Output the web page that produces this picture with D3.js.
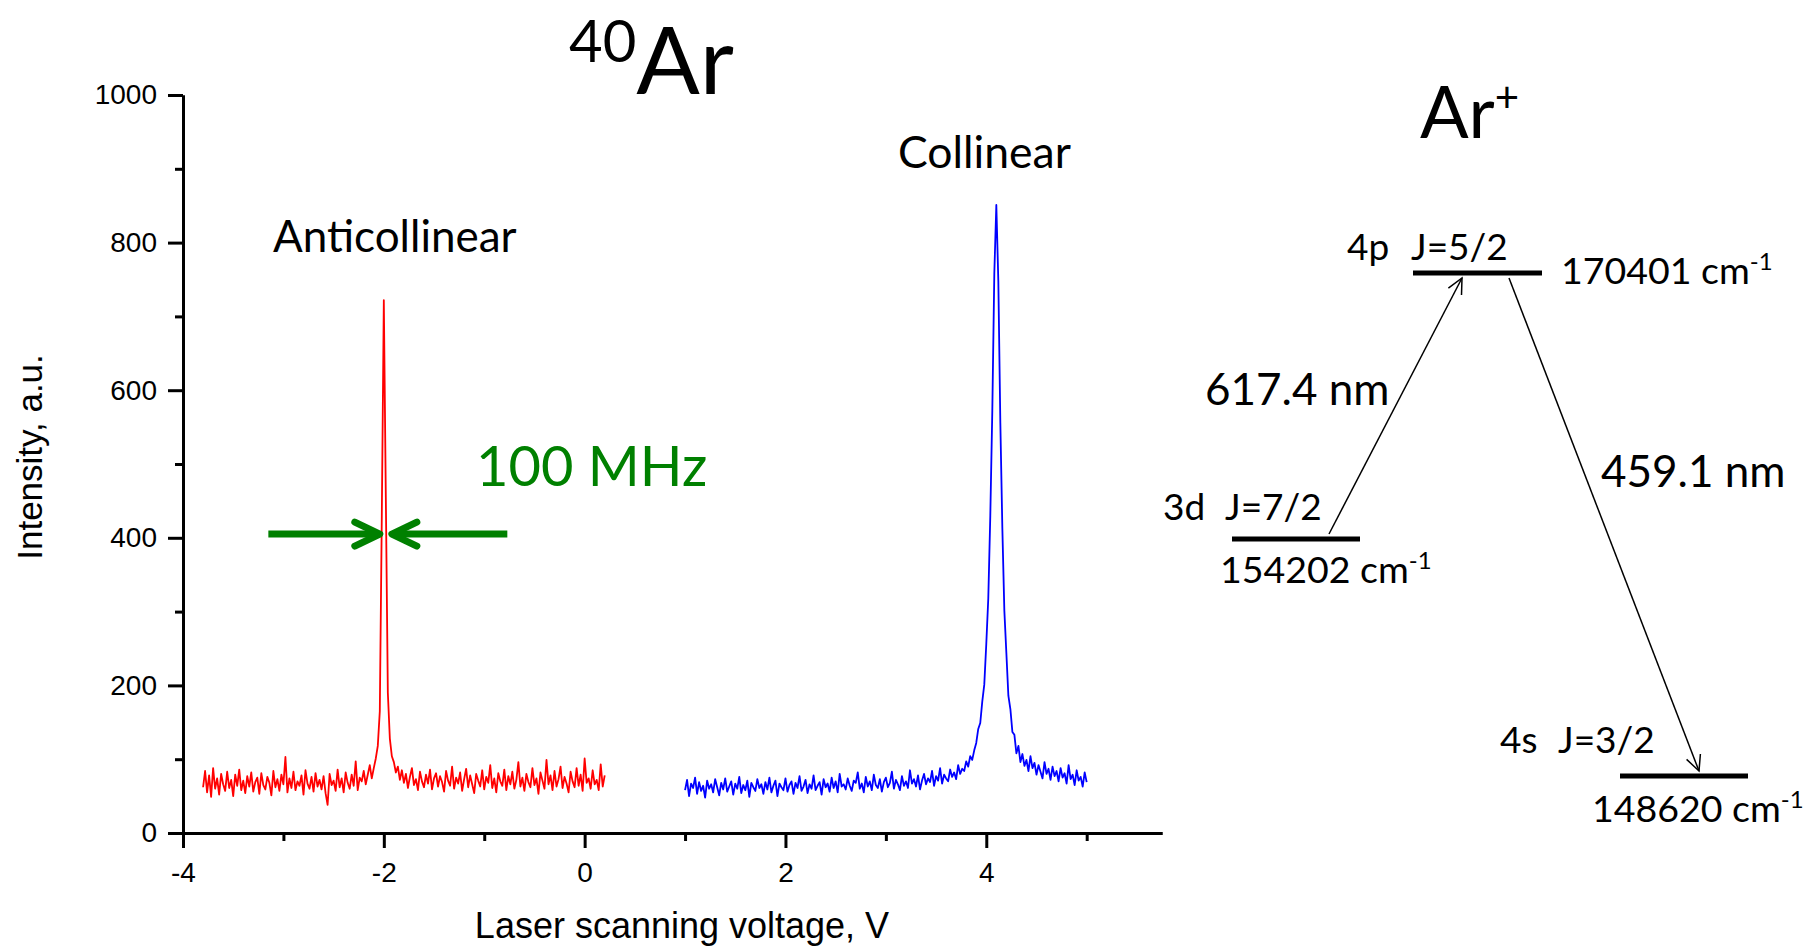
<!DOCTYPE html>
<html>
<head>
<meta charset="utf-8">
<script src="https://cdn.jsdelivr.net/npm/d3@7"></script>
<style>
  body { margin: 0; background: #fff; }
  svg { display: block; }
</style>
</head>
<body>
<svg id="chart" width="1809" height="947"></svg>
<script>
// scan settings (V)
const redStart = -3.8;
const blueStart = 1.0;
const scanStep = 0.02;

// anticollinear trace, intensity a.u.
const redValues = [
  62, 84, 55, 78, 49, 88, 60, 74, 52, 80, 66, 57, 83, 61, 72, 50, 79, 64, 86, 58,
  71, 54, 77, 63, 82, 56, 69, 75, 53, 81, 65, 59, 76, 68, 51, 84, 62, 73, 57, 79,
  66, 103, 55, 74, 61, 83, 58, 70, 64, 78, 52, 85, 67, 60, 76, 56, 81, 63, 72, 59,
  77, 54, 38, 80, 65, 71, 57, 86, 62, 74, 55, 82, 68, 60, 79, 64, 97, 58, 75, 70,
  84, 66, 79, 92, 74, 88, 101, 118, 165, 430,
  722,
  455, 190, 128, 104, 96, 82, 90, 72, 85,
  68, 80, 61, 76, 88, 65, 73, 58, 83, 70, 62, 79, 67, 86, 59, 74, 81, 63, 77, 69,
  56, 84, 71, 64, 90, 60, 75, 67, 82, 57, 73, 87, 62, 78, 66, 54, 80, 71, 63, 85,
  59, 76, 68, 92, 61, 74, 55, 81, 70, 64, 86, 58, 77, 66, 83, 60, 72, 96, 63, 75,
  57, 80, 69, 62, 88, 65, 74, 53, 82, 71, 60, 99, 66, 78, 58, 84, 63, 73, 90, 61,
  76, 67, 55, 83, 70, 62, 88, 64, 79, 57, 101, 68, 74, 60, 85, 66, 72, 58, 93, 63, 78
];

// collinear trace, intensity a.u.
const blueValues = [
  58, 72, 50, 67, 61, 75, 53, 69, 57, 64, 48, 71, 60, 66, 55, 73, 62, 51, 68, 59,
  74, 56, 63, 70, 52, 67, 60, 76, 54, 65, 58, 71, 49, 68, 62, 57, 73, 61, 66, 53,
  69, 59, 75, 55, 64, 71, 50, 67, 62, 58, 74, 56, 65, 70, 53, 68, 61, 77, 57, 63,
  72, 54, 66, 60, 78, 58, 64, 69, 52, 73, 62, 67, 56, 75, 61, 70, 55, 80, 63, 66,
  59, 74, 64, 57, 71, 68, 82, 60, 67, 55, 76, 63, 70, 58, 79, 65, 61, 73, 56, 69,
  75, 62, 68, 83, 60, 72, 66, 58, 77, 64, 70, 61, 85, 67, 73, 63, 78, 59, 71, 80,
  66, 74, 69, 84, 64, 77, 71, 88, 67, 79, 74, 70, 86, 76, 82, 73, 92, 80, 87, 84,
  97, 90, 104, 99, 112,
  122, 141, 149, 178, 201, 256, 318, 430, 572, 758, 851, 748, 556, 413, 301, 244, 186, 168, 137, 133, 108,
  118, 96, 107, 91, 99, 84, 104, 88, 95, 79, 92, 83, 74, 96, 80, 87, 72, 90, 77, 84,
  70, 88, 75, 81, 67, 92, 73, 79, 65, 85, 71, 76, 63, 82, 69
];

const xMajorTicks = [-4, -2, 0, 2, 4];
const xMinorTicks = [-3, -1, 1, 3, 5];
const yMajorTicks = [0, 200, 400, 600, 800, 1000];
const yMinorTicks = [100, 300, 500, 700, 900];

// linewidth arrows (V) at intensity level
const widthArrowTails = [-3.15, -0.77];
const widthArrowTips = [-2.04, -1.92];
const widthArrowLevel = 405;

// Ar+ levels
const levelConfigs = ["4p", "3d", "4s"];
const levelJ = ["J=5/2", "J=7/2", "J=3/2"];
const levelEnergies = [170401, 154202, 148620];
const transitionFrom = [1, 0];
const transitionTo = [0, 2];
const transitionLabels = ["617.4 nm", "459.1 nm"];

const svg = d3.select("#chart");
const axisFont = "'Liberation Sans', Arial, sans-serif";
const noteFont = "Lato, 'Open Sans', sans-serif";

const x = d3.scaleLinear().domain([-4, 5.75]).range([183, 1162]);
const y = d3.scaleLinear().domain([0, 1000]).range([833, 95]);

const plainNumber = d => String(d);

const styleAxis = g => {
  g.selectAll("path, line").attr("stroke", "#000").attr("stroke-width", 3);
  g.selectAll("text")
    .attr("font-family", axisFont)
    .attr("font-size", 28)
    .attr("fill", "#000");
};

// minor ticks first, majors on top
svg.append("g")
  .attr("transform", `translate(0,${y(0)})`)
  .call(d3.axisBottom(x).tickValues(xMinorTicks).tickSize(8).tickSizeOuter(0).tickFormat(""))
  .call(styleAxis);

svg.append("g")
  .attr("transform", `translate(${x(-4)},0)`)
  .call(d3.axisLeft(y).tickValues(yMinorTicks).tickSize(8).tickSizeOuter(0).tickFormat(""))
  .call(styleAxis);

svg.append("g")
  .attr("transform", `translate(0,${y(0)})`)
  .call(d3.axisBottom(x).tickValues(xMajorTicks).tickSize(15).tickPadding(14).tickSizeOuter(0).tickFormat(plainNumber))
  .call(styleAxis);

svg.append("g")
  .attr("transform", `translate(${x(-4)},0)`)
  .call(d3.axisLeft(y).tickValues(yMajorTicks).tickSize(15).tickPadding(11).tickSizeOuter(0).tickFormat(plainNumber))
  .call(styleAxis);

svg.append("text")
  .text("Laser scanning voltage, V")
  .attr("x", 682)
  .attr("y", 938)
  .attr("text-anchor", "middle")
  .attr("font-family", axisFont)
  .attr("font-size", 36);

svg.append("text")
  .text("Intensity, a.u.")
  .attr("transform", "translate(42,457) rotate(-90)")
  .attr("text-anchor", "middle")
  .attr("font-family", axisFont)
  .attr("font-size", 35);

// traces
const paintTrace = (values, start, color) => {
  const line = d3.line()
    .x((d, i) => x(start + i * scanStep))
    .y(d => y(d));

  svg.append("path")
    .datum(values)
    .attr("d", line)
    .attr("fill", "none")
    .attr("stroke", color)
    .attr("stroke-width", 1.8)
    .attr("stroke-linejoin", "round");
};

paintTrace(redValues, redStart, "#ff0000");
paintTrace(blueValues, blueStart, "#0000ff");

// green linewidth arrows
const green = "#008000";
widthArrowTails.forEach((tail, i) => {
  const tip = x(widthArrowTips[i]);
  const ay = y(widthArrowLevel);
  const dir = Math.sign(tip - x(tail));

  svg.append("line")
    .attr("x1", x(tail))
    .attr("y1", ay)
    .attr("x2", tip - dir * 4)
    .attr("y2", ay)
    .attr("stroke", green)
    .attr("stroke-width", 7);

  svg.append("polyline")
    .attr("points", [[tip - dir * 25, ay - 12], [tip, ay], [tip - dir * 25, ay + 12]].join(" "))
    .attr("fill", "none")
    .attr("stroke", green)
    .attr("stroke-width", 7)
    .attr("stroke-linecap", "round")
    .attr("stroke-linejoin", "round");
});

svg.append("text")
  .text("100 MHz")
  .attr("x", 476)
  .attr("y", 486)
  .attr("fill", green)
  .attr("font-family", noteFont)
  .attr("font-size", 56);

svg.append("text")
  .text("Anticollinear")
  .attr("x", 273)
  .attr("y", 252)
  .attr("font-family", noteFont)
  .attr("font-size", 44);

svg.append("text")
  .text("Collinear")
  .attr("x", 898)
  .attr("y", 168)
  .attr("font-family", noteFont)
  .attr("font-size", 44.5);

// title 40Ar
const title = svg.append("text")
  .attr("x", 569)
  .attr("y", 94)
  .attr("font-family", noteFont);
title.append("tspan").text("40").attr("font-size", 58).attr("dy", -32);
title.append("tspan").text("Ar").attr("font-size", 94).attr("dy", 32);

// level diagram
const ion = svg.append("text")
  .attr("x", 1420)
  .attr("y", 138)
  .attr("font-family", noteFont);
ion.append("tspan").text("Ar").attr("font-size", 72);
ion.append("tspan").text("+").attr("font-size", 42).attr("dy", -26);

const levelLayout = [
  { x1: 1413, x2: 1542, y: 273, nameX: 1347, jX: 1411, labelY: 260, eX: 1561, eY: 284 },
  { x1: 1232, x2: 1360, y: 539, nameX: 1163, jX: 1225, labelY: 520, eX: 1220, eY: 583 },
  { x1: 1620, x2: 1748, y: 776, nameX: 1500, jX: 1558, labelY: 753, eX: 1592, eY: 822 }
];

const transitionLayout = [
  { x1: 1329, y1: 534, x2: 1462, y2: 278, lx: 1205, ly: 405 },
  { x1: 1509, y1: 278, x2: 1699, y2: 771, lx: 1601, ly: 487 }
];

levelConfigs.forEach((cfg, i) => {
  const L = levelLayout[i];

  svg.append("line")
    .attr("x1", L.x1)
    .attr("x2", L.x2)
    .attr("y1", L.y)
    .attr("y2", L.y)
    .attr("stroke", "#000")
    .attr("stroke-width", 5);

  svg.append("text")
    .text(cfg)
    .attr("x", L.nameX)
    .attr("y", L.labelY)
    .attr("font-family", noteFont)
    .attr("font-size", 37);

  svg.append("text")
    .text(levelJ[i])
    .attr("x", L.jX)
    .attr("y", L.labelY)
    .attr("font-family", noteFont)
    .attr("font-size", 37);

  const energy = svg.append("text")
    .attr("x", L.eX)
    .attr("y", L.eY)
    .attr("font-family", noteFont)
    .attr("font-size", 37.5);
  energy.append("tspan").text(`${levelEnergies[i]} cm`);
  energy.append("tspan").text("-1").attr("font-size", 24).attr("dy", -14);
});

transitionLabels.forEach((label, i) => {
  const T = transitionLayout[i];
  const ang = Math.atan2(T.y2 - T.y1, T.x2 - T.x1);
  const head = 17;
  const spread = 0.45;

  svg.append("line")
    .attr("x1", T.x1)
    .attr("y1", T.y1)
    .attr("x2", T.x2)
    .attr("y2", T.y2)
    .attr("stroke", "#000")
    .attr("stroke-width", 1.5);

  svg.append("polyline")
    .attr("points", [
      [T.x2 - head * Math.cos(ang - spread), T.y2 - head * Math.sin(ang - spread)],
      [T.x2, T.y2],
      [T.x2 - head * Math.cos(ang + spread), T.y2 - head * Math.sin(ang + spread)]
    ].join(" "))
    .attr("fill", "none")
    .attr("stroke", "#000")
    .attr("stroke-width", 1.5);

  svg.append("text")
    .text(label)
    .attr("x", T.lx)
    .attr("y", T.ly)
    .attr("font-family", noteFont)
    .attr("font-size", 44);
});
</script>
</body>
</html>
